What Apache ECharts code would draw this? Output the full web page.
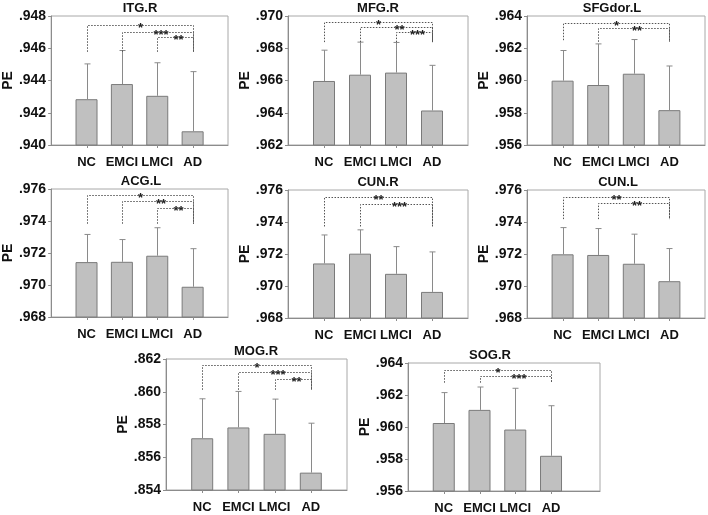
<!DOCTYPE html>
<html><head><meta charset="utf-8">
<script src="https://cdn.jsdelivr.net/npm/echarts@6/dist/echarts.min.js"></script>
<style>html,body{margin:0;padding:0;background:#fff}#c{width:708px;height:515px}</style>
</head><body><div id="c"></div>
<script>
// ---------- data ----------
const categories = ['NC', 'EMCI', 'LMCI', 'AD'];
const panelTitles = ['ITG.R', 'MFG.R', 'SFGdor.L', 'ACG.L', 'CUN.R', 'CUN.L', 'MOG.R', 'SOG.R'];
const yAxisMin = [0.940, 0.962, 0.956, 0.968, 0.968, 0.968, 0.854, 0.956];
const yAxisMax = [0.948, 0.970, 0.964, 0.976, 0.976, 0.976, 0.862, 0.964];
const yInterval = 0.002;

// mean PE per group (NC, EMCI, LMCI, AD)
const meanITG_R   = [0.94284, 0.94378, 0.94305, 0.94085];
const meanMFG_R   = [0.96597, 0.96636, 0.96649, 0.96414];
const meanSFGdor_L= [0.95999, 0.95972, 0.96042, 0.95816];
const meanACG_L   = [0.97143, 0.97145, 0.97183, 0.96989];
const meanCUN_R   = [0.97141, 0.97202, 0.97076, 0.96963];
const meanCUN_L   = [0.97198, 0.97194, 0.97139, 0.97030];
const meanMOG_R   = [0.85716, 0.85782, 0.85743, 0.85506];
const meanSOG_R   = [0.96025, 0.96107, 0.95984, 0.95820];

// top of upper error bar (mean + SD)
const errTopITG_R   = [0.94503, 0.94586, 0.94510, 0.94455];
const errTopMFG_R   = [0.96788, 0.96838, 0.96836, 0.96694];
const errTopSFGdor_L= [0.96186, 0.96227, 0.96254, 0.96090];
const errTopACG_L   = [0.97316, 0.97284, 0.97358, 0.97227];
const errTopCUN_R   = [0.97319, 0.97351, 0.97246, 0.97213];
const errTopCUN_L   = [0.97365, 0.97359, 0.97324, 0.97234];
const errTopMOG_R   = [0.85957, 0.86002, 0.85955, 0.85808];
const errTopSOG_R   = [0.96215, 0.96250, 0.96242, 0.96133];

// significance brackets: [fromGroup, toGroup, bracket level, lower end of drops, label]
const sigITG_R   = [[0, 3, 0.94744, 0.94578, '*'], [1, 3, 0.94702, 0.94578, '***'], [2, 3, 0.94670, 0.94578, '**']];
const sigMFG_R   = [[0, 3, 0.96965, 0.96838, '*'], [1, 3, 0.96933, 0.96838, '**'], [2, 3, 0.96898, 0.96838, '***']];
const sigSFGdor_L= [[0, 3, 0.96358, 0.96250, '*'], [1, 3, 0.96323, 0.96240, '**']];
const sigACG_L   = [[0, 3, 0.97562, 0.97383, '*'], [1, 3, 0.97522, 0.97383, '**'], [2, 3, 0.97484, 0.97383, '**']];
const sigCUN_R   = [[0, 3, 0.97554, 0.97372, '**'], [1, 3, 0.97512, 0.97372, '***']];
const sigCUN_L   = [[0, 3, 0.97558, 0.97418, '**'], [1, 3, 0.97516, 0.97418, '**']];
const sigMOG_R   = [[0, 3, 0.86161, 0.86012, '*'], [1, 3, 0.86120, 0.86012, '***'], [2, 3, 0.86080, 0.86012, '**']];
const sigSOG_R   = [[0, 3, 0.96359, 0.96277, '*'], [1, 3, 0.96318, 0.96277, '***']];

const panelMeans = [meanITG_R, meanMFG_R, meanSFGdor_L, meanACG_L, meanCUN_R, meanCUN_L, meanMOG_R, meanSOG_R];
const panelErrTops = [errTopITG_R, errTopMFG_R, errTopSFGdor_L, errTopACG_L, errTopCUN_R, errTopCUN_L, errTopMOG_R, errTopSOG_R];
const panelSigs = [sigITG_R, sigMFG_R, sigSFGdor_L, sigACG_L, sigCUN_R, sigCUN_L, sigMOG_R, sigSOG_R];

// ---------- layout ----------
// [left, top, width, height, x-extent (group slots), title centre x]
const boxes = [
  [49, 16, 179, 129, 5, 140], [288, 16, 180, 129, 5, 378], [527, 16, 178, 129, 5, 612],
  [51, 189, 177, 128, 5, 141], [288, 190, 180, 128, 5, 378], [527, 190, 178, 128, 5, 618],
  [166, 359, 181, 131, 5, 256], [408, 363, 192, 130, 5.37, 490]
];
const FONT = 'Liberation Sans, Arial, sans-serif';

const grid = [], xAxis = [], yAxis = [], series = [], title = [];
boxes.forEach((b, p) => {
  grid.push({left: b[0], top: b[1], width: b[2], height: b[3], show: true,
             borderColor: '#a8a8a8', borderWidth: 1, containLabel: false});
  title.push({text: panelTitles[p], left: b[5], top: b[1] - 14, padding: 0, textAlign: 'center',
              textStyle: {fontFamily: FONT, fontWeight: 'bold', fontSize: 13, color: '#111'}});
  xAxis.push({type: 'value', gridIndex: p, min: 0, max: b[4], interval: 1,
    axisLine: {show: true, lineStyle: {color: '#8c8c8c', width: 1}},
    axisTick: {show: false},
    axisLabel: {show: true, margin: 11, showMinLabel: true, showMaxLabel: true,
      fontFamily: FONT, fontWeight: 'bold', fontSize: 13, color: '#111',
      formatter: v => categories[Math.round(v) - 1] && Math.abs(v - Math.round(v)) < 1e-6 ? categories[Math.round(v) - 1] : ''},
    splitLine: {show: false}});
  yAxis.push({type: 'value', gridIndex: p, min: yAxisMin[p], max: yAxisMax[p], interval: yInterval,
    name: 'PE', nameLocation: 'middle', nameGap: 35, nameRotate: 90,
    nameTextStyle: {fontFamily: FONT, fontWeight: 'bold', fontSize: 14, color: '#111'},
    axisLine: {show: true, lineStyle: {color: '#8c8c8c'}},
    axisTick: {show: true, length: 3, lineStyle: {color: '#8c8c8c'}},
    axisLabel: {margin: 5, fontFamily: FONT, fontWeight: 'bold', fontSize: 14, color: '#111',
      formatter: v => v.toFixed(3).replace(/^0/, '')},
    splitLine: {show: false}});
  const barData = panelMeans[p].map((v, i) => [i + 1, v]);
  series.push({type: 'bar', xAxisIndex: p, yAxisIndex: p, data: barData, barWidth: 22,
    itemStyle: {color: '#c0c0c0', borderColor: '#7a7a7a', borderWidth: 1}, silent: true});
  // error bars + x-axis ticks under each group
  series.push({type: 'custom', xAxisIndex: p, yAxisIndex: p, clip: false,
    data: panelMeans[p].map((v, i) => [i + 1, v, panelErrTops[p][i]]),
    renderItem: (params, api) => {
      const base = api.coord([api.value(0), api.value(1)]);
      const top = api.coord([api.value(0), api.value(2)]);
      const bottom = api.coord([api.value(0), yAxisMin[p]]);
      const x = Math.round(base[0]) + 0.5;
      return {type: 'group', children: [
        {type: 'line', shape: {x1: x, y1: base[1], x2: x, y2: top[1]}, style: {stroke: '#8a8a8a', lineWidth: 1}},
        {type: 'line', shape: {x1: x - 3, y1: top[1], x2: x + 3, y2: top[1]}, style: {stroke: '#8a8a8a', lineWidth: 1}},
        {type: 'line', shape: {x1: x, y1: bottom[1], x2: x, y2: bottom[1] + 3}, style: {stroke: '#8c8c8c', lineWidth: 1}}
      ]};
    }, silent: true, z: 3});
  // significance brackets
  series.push({type: 'custom', xAxisIndex: p, yAxisIndex: p,
    data: panelSigs[p].map(s => [s[0] + 1, s[1] + 1, s[2], s[3]]),
    renderItem: (params, api) => {
      const s = panelSigs[p][params.dataIndex];
      const a = api.coord([api.value(0), api.value(2)]);
      const b = api.coord([api.value(1), api.value(2)]);
      const aEnd = api.coord([api.value(0), api.value(3)]);
      const y = Math.round(a[1]) + 0.5;
      const xa = Math.round(a[0]) + 0.5, xb = Math.round(b[0]) + 0.5;
      return {type: 'group', children: [
        {type: 'polyline', shape: {points: [[xa, aEnd[1]], [xa, y], [xb, y], [xb, aEnd[1]]]},
          style: {stroke: '#555', lineWidth: 1, lineDash: [1.5, 1.5], fill: null}},
        {type: 'text', x: (xa + xb) / 2 + (s[0] === 0 ? 0 : 3), y: y + 3,
          style: {text: s[4], fill: '#222', font: 'bold 13px ' + FONT, align: 'center', verticalAlign: 'middle'}}
      ]};
    }, silent: true, z: 4});
});

const chart = echarts.init(document.getElementById('c'), null, {renderer: 'canvas'});
chart.setOption({animation: false, backgroundColor: '#fff', title, grid, xAxis, yAxis, series});
</script></body></html>
